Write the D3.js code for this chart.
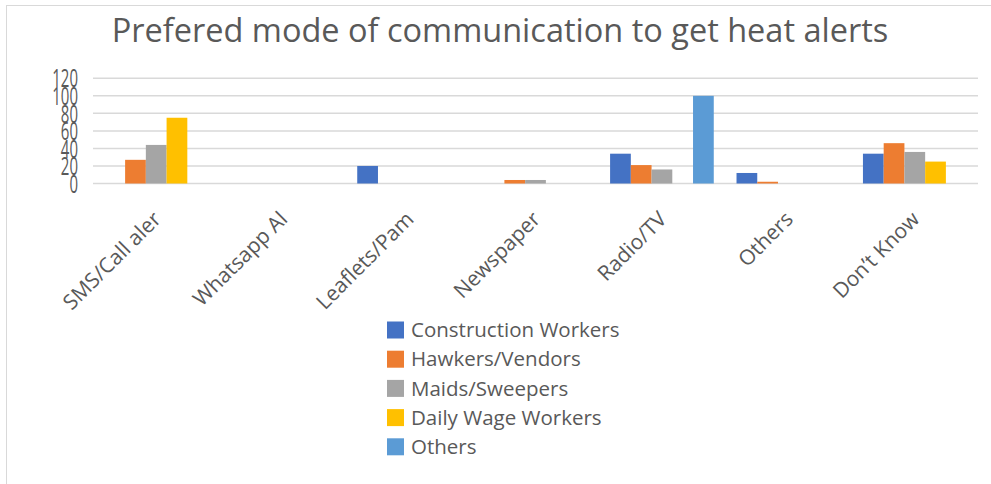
<!DOCTYPE html>
<html>
<head>
<meta charset="utf-8">
<script src="https://cdn.jsdelivr.net/npm/d3@7"></script>
<style>
  html, body { margin: 0; padding: 0; background: #fff; }
  svg { display: block; font-family: "Open Sans", "Noto Sans", sans-serif; }
</style>
</head>
<body>
<svg id="chart" width="991" height="484"></svg>
<script>
// Survey answers: preferred channel for receiving heat alerts, by worker group
const categories = ["SMS/Call aler", "Whatsapp Al", "Leaflets/Pam", "Newspaper", "Radio/TV", "Others", "Don’t Know"];
const seriesNames = ["Construction Workers", "Hawkers/Vendors", "Maids/Sweepers", "Daily Wage Workers", "Others"];
const constructionWorkers = [0, 0, 20, 0, 34, 12, 34];
const hawkersVendors      = [27, 0, 0, 4, 21, 2, 46];
const maidsSweepers       = [44, 0, 0, 4, 16, 0, 36];
const dailyWageWorkers    = [75, 0, 0, 0, 0, 0, 25];
const othersGroup         = [0, 0, 0, 0, 100, 0, 0];
const yTicks = [0, 20, 40, 60, 80, 100, 120];
const colors = ["#4472C4", "#ED7D31", "#A5A5A5", "#FFC000", "#5B9BD5"];

const seriesValues = [constructionWorkers, hawkersVendors, maidsSweepers, dailyWageWorkers, othersGroup];

const svg = d3.select("#chart");
const textColor = "#595959";

// outer chart frame
svg.append("rect")
  .attr("x", 6.5).attr("y", 5.5)
  .attr("width", 1000).attr("height", 500)
  .attr("fill", "#fff").attr("stroke", "#d9d9d9");

// title
svg.append("text")
  .attr("x", 500).attr("y", 42)
  .attr("text-anchor", "middle")
  .attr("fill", textColor)
  .style("font-size", "32.5px")
  .text("Prefered mode of communication to get heat alerts");

const plot = { left: 93, right: 978, top: 78.3, bottom: 183.5 };

const x0 = d3.scaleBand()
  .domain(categories)
  .range([plot.left, plot.right])
  .paddingInner(0.18)
  .paddingOuter(0.09);

const x1 = d3.scaleBand()
  .domain(seriesNames)
  .range([0, x0.bandwidth()]);

const y = d3.scaleLinear()
  .domain([0, 120])
  .range([plot.bottom, plot.top]);

// horizontal gridlines
svg.append("g")
  .selectAll("line")
  .data(yTicks)
  .join("line")
  .attr("x1", plot.left).attr("x2", plot.right)
  .attr("y1", d => y(d)).attr("y2", d => y(d))
  .attr("stroke", "#d9d9d9")
  .attr("stroke-width", 1.5);

// y tick labels (tall, condensed digits)
svg.append("g")
  .selectAll("text")
  .data(yTicks)
  .join("text")
  .attr("transform", d => `translate(78,${y(d)}) scale(1,1.75)`)
  .attr("text-anchor", "end")
  .attr("dy", "0.35em")
  .attr("fill", textColor)
  .style("font-size", "15px")
  .text(d => d);

// grouped bars
const groups = svg.append("g")
  .selectAll("g")
  .data(categories)
  .join("g")
  .attr("transform", d => `translate(${x0(d)},0)`);

groups.selectAll("rect")
  .data((c, ci) => seriesNames.map((s, si) => ({ s, si, v: seriesValues[si][ci] })))
  .join("rect")
  .attr("x", d => x1(d.s))
  .attr("width", x1.bandwidth())
  .attr("y", d => y(d.v))
  .attr("height", d => y(0) - y(d.v))
  .attr("fill", d => colors[d.si]);

// rotated category labels
svg.append("g")
  .selectAll("text")
  .data(categories)
  .join("text")
  .attr("transform", d => `translate(${x0(d) + x0.bandwidth() / 2 + 6},${plot.bottom + 37}) rotate(-45)`)
  .attr("text-anchor", "end")
  .attr("fill", textColor)
  .style("font-size", "21px")
  .text(d => d);

// legend
const legend = svg.append("g")
  .selectAll("g")
  .data(seriesNames)
  .join("g")
  .attr("transform", (d, i) => `translate(387,${330 + i * 29.2})`);

legend.append("rect")
  .attr("x", 0).attr("y", -8.5)
  .attr("width", 17).attr("height", 17)
  .attr("fill", (d, i) => colors[i]);

legend.append("text")
  .attr("x", 24)
  .attr("dy", "0.35em")
  .attr("fill", textColor)
  .style("font-size", "20.5px")
  .text(d => d);
</script>
</body>
</html>
